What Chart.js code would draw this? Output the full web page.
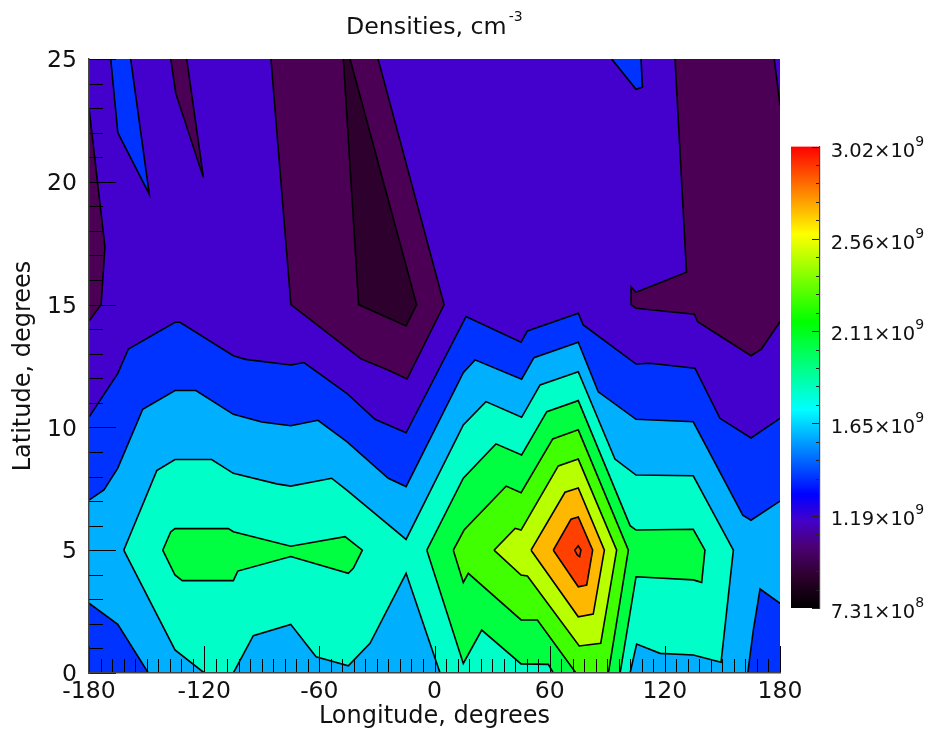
<!DOCTYPE html>
<html>
<head>
<meta charset="utf-8">
<script src="https://cdn.jsdelivr.net/npm/chart.js@4"></script>
<style>
html,body{margin:0;padding:0;background:#fff;}
#wrap{position:relative;width:933px;height:734px;overflow:hidden;}
canvas{position:absolute;display:block;}
</style>
</head>
<body>
<div id="wrap">
<canvas id="map" width="933" height="734" style="left:0;top:0;width:933px;height:734px"></canvas>
<canvas id="bar" width="153" height="500" style="left:780px;top:130px;width:153px;height:500px"></canvas>
</div>
<script>
const titleMain = "Densities, cm";
const titleSup = "-3";
const xTitle = "Longitude, degrees";
const yTitle = "Latitude, degrees";
const xTicks = [-180,-120,-60,0,60,120,180];
const yTicks = [0,5,10,15,20,25];
const cbTicks = [7.31e8,1.19e9,1.65e9,2.11e9,2.56e9,3.02e9];
const cbMantissa = ["7.31","1.19","1.65","2.11","2.56","3.02"];
const cbExponent = ["8","9","9","9","9","9"];

// contour regions as [longitude, latitude], painted from lowest layer to highest
const frame = [[-180,0],[-180,25],[180,25],[180,0]];
const lowLeft = [[-180,23.0],[-171.7,17.35],[-173.7,15.0],[-180,14.33]];
const lowMid = [[-85.2,25],[-74.8,15],[-38.3,12.79],[-24.2,12.34],[-14.3,11.97],[5,15],[-29.4,25]];
const lowSpike = [[-137.4,25],[-134.8,23.6],[-120.4,20.17],[-129.1,25]];
const lowRight = [[125.3,25],[131.3,16.32],[105,15.5],[102.4,15.72],[102.4,15],[105,14.85],[135.4,14.61],[137.1,14.3],[164.9,12.92],[170.3,13.19],[180,14.3],[180,23.13],[177,25]];
const lowest = [[-47.5,25],[-39.5,15],[-14.8,14.13],[-9.3,15],[-44,25]];
const blueTopA = [[-168.7,25],[-165,22],[-148.6,19.5],[-158.3,25]];
const blueTopB = [[92.3,25],[105,23.77],[108.3,23.85],[107.6,25]];
const blueMain = [[-180,10.42],[-165,12.2],[-159.5,13.19],[-135.2,14.28],[-132.6,14.28],[-104.8,12.92],[-98.4,12.77],[-74.9,12.54],[-68,12.64],[-45.7,11.39],[-31,10.33],[-14.8,9.78],[16.4,14.51],[45.1,13.47],[48.4,13.93],[74.9,14.65],[77.5,14.17],[105,12.58],[112.3,12.61],[135.7,12.41],[148.7,10.37],[164.9,9.57],[180,10.37],[180,0],[-180,0]];
const skyMain = [[-180,7.04],[-172.2,7.45],[-165,8.34],[-152,10.74],[-135.2,11.5],[-124.3,11.5],[-104.8,10.53],[-90,10.22],[-74.9,10.07],[-60.7,10.29],[-45.7,9.42],[-24.1,7.93],[-14.8,7.59],[15,12.23],[21.1,12.75],[45.4,11.96],[51.8,12.84],[74.9,13.47],[85.3,11.45],[105,10.33],[134.8,10.23],[160.6,6.43],[164.9,6.22],[180,7],[180,2.84],[169.6,3.42],[166.1,1.75],[163.2,0],[-149.1,0],[-165,1.98],[-180,2.84]];
const tealMain = [[-161.9,5],[-144.7,8.24],[-135.2,8.69],[-116.1,8.69],[-104.8,8.13],[-82.2,7.7],[-74.9,7.61],[-53.6,7.93],[-45.7,7.45],[-14.8,5.44],[15,10.1],[26.8,11.05],[45.4,10.41],[55,11.73],[74.9,12.27],[94,8.71],[105,8.06],[134.8,8.03],[155.7,5],[149.3,0.44],[134.8,0.73],[117.5,0.8],[105.3,1.18],[101.9,0],[2.9,0],[-14.8,4.06],[-33.6,1.21],[-44.9,0.29],[-61.7,0.66],[-74.9,1.98],[-94.4,1.52],[-104.8,0],[-119.9,0],[-135.2,0.94]];
const greenLeft = [[-141.6,5],[-137.4,5.75],[-135.2,5.88],[-107.4,5.88],[-104.8,5.75],[-74.9,5.16],[-46.6,5.55],[-37.6,5],[-42.3,4.26],[-44.9,4.06],[-74.9,4.74],[-102.5,4.15],[-104.8,3.76],[-131.4,3.76],[-135.2,3.99]];
const greenMid = [[-4,5],[15,7.93],[32,9.33],[45.4,8.88],[58.5,10.64],[74.9,11.09],[101.9,6],[105,5.82],[134.8,5.85],[140.9,5],[139.2,3.69],[134.8,3.79],[105,3.92],[96.7,0],[61.9,0],[59.3,0.35],[45.1,0.37],[24.6,1.75],[15,0.39]];
const limeMain = [[9.8,5],[15.4,5.82],[37.3,7.61],[45.1,7.34],[61.6,9.53],[74.9,9.9],[101,5],[90.6,0],[73.7,0],[53.6,2.16],[45.1,2.16],[17.6,4.06],[15,3.69]];
const yellowMain = [[31,5],[42,5.89],[45.1,5.82],[64.5,8.43],[74.9,8.71],[94.9,5],[86.6,1.21],[75.4,1.1],[48.4,3.95],[45.1,3.99]];
const orangeMain = [[50.3,5],[68,7.36],[74.9,7.53],[88.5,5],[82.7,2.4],[74.9,2.29]];
const redMain = [[61.9,5],[71.1,6.26],[74.9,6.35],[82.4,5],[79.3,3.58],[74.9,3.51]];
const redCore = [[73,5],[74.9,5.18],[76.3,5.01],[75.6,4.74],[74.4,4.81]];

const layers = [
  [frame,"#4400cc"],[lowLeft,"#4b0055"],[lowMid,"#4b0055"],[lowSpike,"#4b0055"],[lowRight,"#4b0055"],
  [lowest,"#2e002e"],[blueTopA,"#0033ff"],[blueTopB,"#0033ff"],[blueMain,"#0033ff"],[skyMain,"#00b0ff"],
  [tealMain,"#00ffc8"],[greenLeft,"#00ff40"],[greenMid,"#00ff40"],[limeMain,"#40ff00"],
  [yellowMain,"#b8ff00"],[orangeMain,"#ffb800"],[redMain,"#ff4000"],[redCore,"#ff4000"]
];

const FONT = '"DejaVu Sans"';
const INK = "#111";

function onEdge(c){
  const a=c.p0.parsed,b=c.p1.parsed;
  return (a.x===b.x&&Math.abs(a.x)===180)||(a.y===b.y&&(a.y===0||a.y===25));
}
const datasets = layers.map(([poly,color],i)=>{
  const closed = poly.concat([poly[0]]);
  return {
    data: closed.map(p=>({x:p[0],y:p[1]})),
    showLine:true, fill:false, backgroundColor:color, borderColor:"#000", borderWidth:1.6,
    pointRadius:0, tension:0, order:layers.length-i,
    segment:{borderColor:c=>onEdge(c)?"rgba(0,0,0,0)":undefined}
  };
});

// paints each closed contour region from the points the line controller placed on the scales
const regionFill = {
  id:"regionFill",
  beforeDatasetDraw(chart,args){
    const pts=args.meta.data;
    if(!pts.length) return;
    const ctx=chart.ctx;
    ctx.save();
    ctx.fillStyle=chart.data.datasets[args.index].backgroundColor;
    ctx.beginPath();
    pts.forEach((p,i)=>i?ctx.lineTo(p.x,p.y):ctx.moveTo(p.x,p.y));
    ctx.closePath();
    ctx.fill();
    ctx.restore();
  }
};

const innerTicks = {
  id:"innerTicks",
  afterDatasetsDraw(chart){
    const {ctx,chartArea:a,scales:{x,y}}=chart;
    ctx.save();
    ctx.strokeStyle="#000";ctx.lineWidth=1;
    ctx.beginPath();
    for(let v=xTicks[0];v<=xTicks[xTicks.length-1];v+=6){
      const px=Math.round(x.getPixelForValue(v))+0.5;
      const len=xTicks.includes(v)?27:14;
      ctx.moveTo(px,a.bottom);ctx.lineTo(px,a.bottom-len);
    }
    for(let v=yTicks[0];v<=yTicks[yTicks.length-1];v+=1){
      const py=Math.round(y.getPixelForValue(v))+0.5;
      const len=yTicks.includes(v)?27:14;
      ctx.moveTo(a.left,py);ctx.lineTo(a.left+len,py);
    }
    ctx.stroke();
    ctx.fillStyle=INK;ctx.textBaseline="alphabetic";ctx.textAlign="left";
    ctx.font="23.7px "+FONT;
    ctx.fillText(titleMain,346,34);
    const w=ctx.measureText(titleMain).width;
    ctx.font="14px "+FONT;
    ctx.fillText(titleSup,346+w+2,21);
    ctx.restore();
  }
};

new Chart(document.getElementById("map"),{
  type:"scatter",
  data:{datasets},
  plugins:[regionFill,innerTicks],
  options:{
    responsive:false,animation:false,
    layout:{padding:{top:59,right:153,left:0,bottom:0}},
    plugins:{legend:{display:false},title:{display:false},tooltip:{enabled:false}},
    scales:{
      x:{type:"linear",min:-180,max:180,
        afterFit(s){s.height=61;},
        grid:{drawOnChartArea:false,drawTicks:false},
        border:{display:true,color:"#444",width:1.5,z:1},
        ticks:{stepSize:60,maxRotation:0,autoSkip:false,color:INK,padding:5,font:{family:FONT,size:23.5}},
        title:{display:true,text:xTitle,color:INK,font:{family:FONT,size:24},padding:{top:0,bottom:3}}
      },
      y:{type:"linear",min:0,max:25,
        afterFit(s){s.width=89;},
        grid:{drawOnChartArea:false,drawTicks:false},
        border:{display:true,color:"#444",width:1.5,z:1},
        ticks:{stepSize:5,autoSkip:false,color:INK,padding:12,labelOffset:2,font:{family:FONT,size:23.5}},
        title:{display:true,text:yTitle,color:INK,font:{family:FONT,size:24},padding:{top:9,bottom:0}}
      }
    }
  }
});

const cbMin=cbTicks[0], cbMax=cbTicks[cbTicks.length-1];
const cbStops=[[0,"#000000"],[0.07,"#2e002e"],[0.13,"#4b0070"],[0.19,"#4400cc"],[0.245,"#0000ff"],[0.43,"#00ffff"],[0.62,"#00ff00"],[0.81,"#ffff00"],[1,"#ff0000"]];

const barDeco = {
  id:"barDeco",
  afterDatasetsDraw(chart){
    const {ctx,chartArea:a,scales:{y}}=chart;
    ctx.save();
    ctx.strokeStyle="#222";ctx.lineWidth=1.2;ctx.beginPath();
    for(let i=0;i<=25;i++){
      const v=cbMin+(cbMax-cbMin)*i/25;
      const py=Math.round(y.getPixelForValue(v))+0.5;
      const len=i%5===0?8:4;
      ctx.moveTo(a.right,py);ctx.lineTo(a.right-len,py);
    }
    ctx.stroke();
    ctx.fillStyle=INK;ctx.textBaseline="alphabetic";ctx.textAlign="left";
    cbTicks.forEach((v,i)=>{
      const py=y.getPixelForValue(v);
      const tx=50.7;
      const mant=cbMantissa[i]+"\u00d710";
      ctx.font="19.5px "+FONT;
      ctx.fillText(mant,tx,py+10);
      const w=ctx.measureText(mant).width;
      ctx.font="14px "+FONT;
      ctx.fillText(cbExponent[i],tx+w,py-1);
    });
    ctx.restore();
  }
};

new Chart(document.getElementById("bar"),{
  type:"bar",
  data:{labels:["density"],datasets:[{
    data:[[cbMin,cbMax]],
    barPercentage:1,categoryPercentage:1,borderWidth:0,
    backgroundColor(c){
      const a=c.chart.chartArea;
      if(!a) return "#000";
      const g=c.chart.ctx.createLinearGradient(0,a.bottom,0,a.top);
      cbStops.forEach(s=>g.addColorStop(s[0],s[1]));
      return g;
    }
  }]},
  plugins:[barDeco],
  options:{
    responsive:false,animation:false,
    layout:{padding:{top:16.5,left:11,bottom:22,right:0}},
    plugins:{legend:{display:false},title:{display:false},tooltip:{enabled:false}},
    scales:{
      x:{display:false},
      y:{position:"right",min:cbMin,max:cbMax,
        afterFit(s){s.width=113;},
        grid:{drawOnChartArea:false,drawTicks:false},
        border:{display:true,color:"#444",width:1.2,z:1},
        ticks:{display:false}
      }
    }
  }
});
</script>
</body>
</html>
